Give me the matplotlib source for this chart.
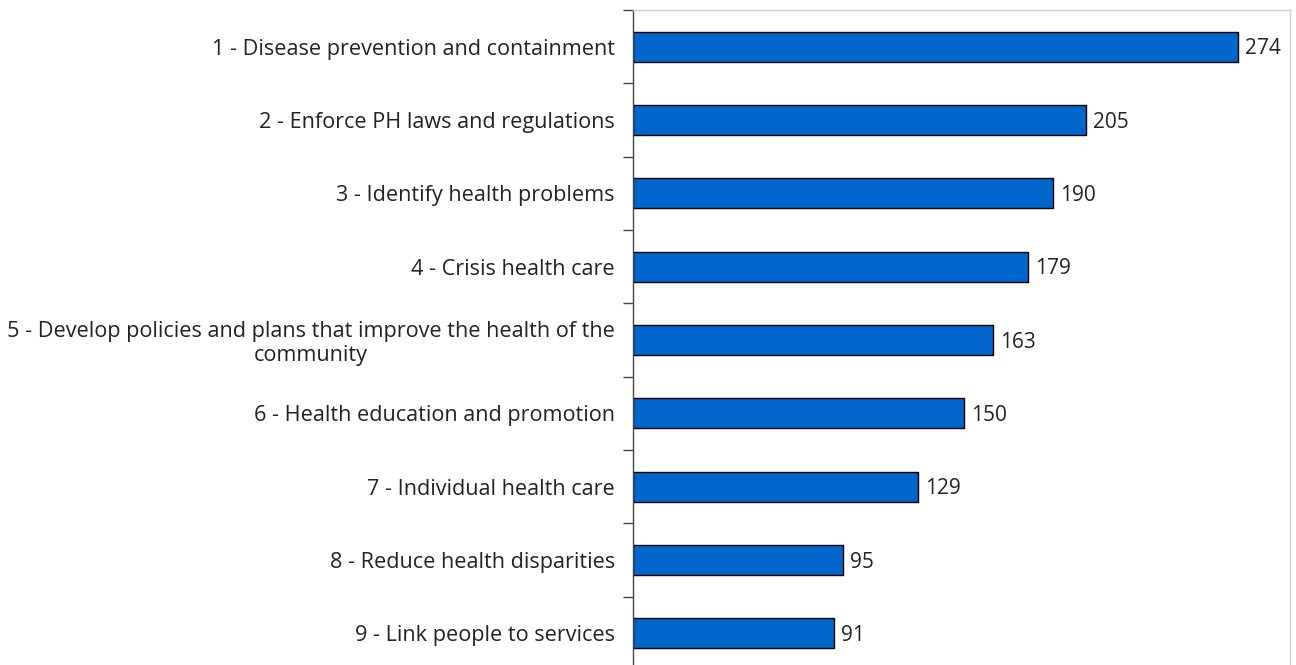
import matplotlib.pyplot as plt
from matplotlib.ticker import FixedLocator, NullLocator

# --- Data ---
categories = [
    '1 - Disease prevention and containment',
    '2 - Enforce PH laws and regulations',
    '3 - Identify health problems',
    '4 - Crisis health care',
    '5 - Develop policies and plans that improve the health of the\ncommunity',
    '6 - Health education and promotion',
    '7 - Individual health care',
    '8 - Reduce health disparities',
    '9 - Link people to services',
]
values = [274, 205, 190, 179, 163, 150, 129, 95, 91]

BAR_COLOR = '#0066CC'
TEXT_COLOR = '#222222'
FONT = 'Open Sans'

plt.rcParams['font.family'] = [FONT, 'DejaVu Sans']

fig = plt.figure(figsize=(12.96, 6.65), dpi=100)
W, H = 1296, 665
# axes box in pixels: left 633, right 1290, top 10, bottom 670
ax = fig.add_axes([633 / W, 1 - 670 / H, (1290 - 633) / W, (670 - 10) / H])

n = len(categories)
ypos = list(range(n))
ax.barh(ypos, values, height=0.41, color=BAR_COLOR, edgecolor='black', linewidth=1.0)

ax.set_ylim(n - 0.5, -0.5)
ax.set_xlim(0, 297.5)

# value labels
for y, v in zip(ypos, values):
    ax.text(v + 3.2, y + 0.03, str(v), va='center', ha='left', fontsize=15, color=TEXT_COLOR)

# category labels as major ticks (no tick marks), boundaries as minor ticks
ax.yaxis.set_major_locator(FixedLocator(ypos))
ax.set_yticklabels(categories, fontsize=15.6, color=TEXT_COLOR, ha='right',
                   multialignment='center', linespacing=1.15)
ax.yaxis.set_minor_locator(FixedLocator([i - 0.5 for i in range(n + 1)]))
ax.tick_params(axis='y', which='major', length=0, pad=13)
ax.tick_params(axis='y', which='minor', length=7, width=1, color='#444444')
ax.xaxis.set_major_locator(NullLocator())

for side in ['top', 'right']:
    ax.spines[side].set_color('#d0d0d0')
    ax.spines[side].set_linewidth(1)
ax.spines['bottom'].set_visible(False)
ax.spines['left'].set_color('#444444')
ax.spines['left'].set_linewidth(1)

fig.savefig('out.png', dpi=100)
